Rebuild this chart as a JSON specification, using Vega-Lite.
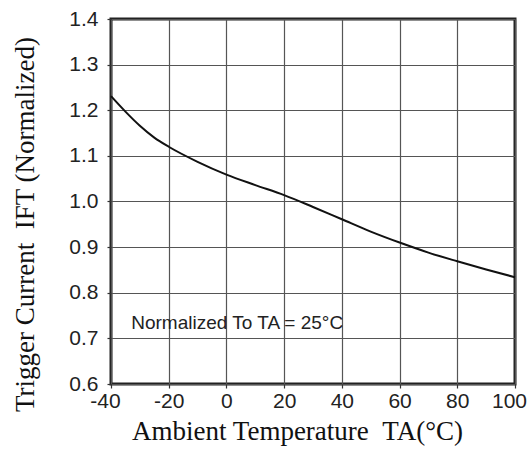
{
  "$schema": "https://vega.github.io/schema/vega-lite/v6.json",
  "width": 404,
  "height": 365,
  "autosize": {"type": "none"},
  "padding": {"left": 111, "top": 19, "right": 16, "bottom": 66},
  "background": "white",
  "config": {
    "view": {"stroke": "#222", "strokeWidth": 3},
    "axis": {
      "labelFont": "Liberation Sans",
      "labelFontSize": 21,
      "labelColor": "#222",
      "labelFlush": false,
      "labelOverlap": false,
      "titleFont": "Liberation Serif",
      "titleFontSize": 27,
      "titleFontWeight": "normal",
      "titleColor": "#111",
      "gridColor": "#555",
      "gridWidth": 1.2,
      "gridOpacity": 1,
      "domain": false,
      "tickColor": "#333",
      "tickSize": 4,
      "tickWidth": 1.2
    }
  },
  "layer": [
    {
      "data": {
        "values": [
          {"t": -40, "i": 1.231},
          {"t": -35, "i": 1.197},
          {"t": -30, "i": 1.166},
          {"t": -25, "i": 1.14},
          {"t": -20, "i": 1.12},
          {"t": -10, "i": 1.087},
          {"t": 0, "i": 1.059},
          {"t": 10, "i": 1.036},
          {"t": 20, "i": 1.014},
          {"t": 30, "i": 0.988},
          {"t": 40, "i": 0.961},
          {"t": 50, "i": 0.934},
          {"t": 60, "i": 0.91},
          {"t": 70, "i": 0.888},
          {"t": 80, "i": 0.869},
          {"t": 90, "i": 0.851},
          {"t": 100, "i": 0.834}
        ]
      },
      "mark": {"type": "line", "color": "#111", "strokeWidth": 2, "interpolate": "monotone"},
      "encoding": {
        "x": {
          "field": "t", "type": "quantitative",
          "scale": {"domain": [-40, 100], "nice": false},
          "axis": {
            "values": [-40, -20, 0, 20, 40, 60, 80, 100],
            "labelExpr": "toString(datum.value)",
            "labelOffset": {"condition": {"test": "datum.value === 100 || datum.value === -40", "value": -6}, "value": 0},
            "title": "Ambient Temperature\u00a0\u00a0TA(°C)",
            "labelPadding": 2, "titlePadding": 7, "titleX": 186
          }
        },
        "y": {
          "field": "i", "type": "quantitative",
          "scale": {"domain": [0.6, 1.4], "nice": false, "zero": false},
          "axis": {"values": [0.6, 0.7, 0.8, 0.9, 1.0, 1.1, 1.2, 1.3, 1.4], "format": ".1f", "title": "Trigger Current\u00a0\u00a0IFT (Normalized)", "labelPadding": 9, "titlePadding": 29, "titleY": 205}
        }
      }
    },
    {
      "data": {"values": [{"t": -33, "i": 0.733, "label": "Normalized To TA = 25°C"}]},
      "mark": {"type": "text", "align": "left", "baseline": "middle", "font": "Liberation Sans", "fontSize": 19, "color": "#222"},
      "encoding": {
        "x": {"field": "t", "type": "quantitative"},
        "y": {"field": "i", "type": "quantitative"},
        "text": {"field": "label"}
      }
    }
  ]
}
